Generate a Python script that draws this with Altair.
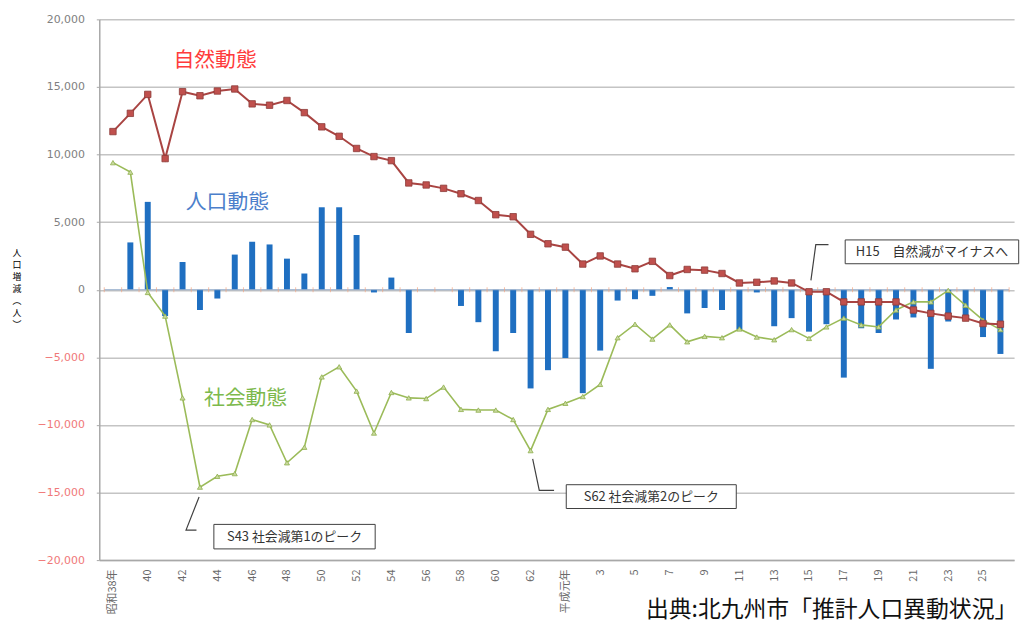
import altair as alt
import pandas as pd

# ---- data ----
years = [f"S{y}" for y in range(38, 64)] + [f"H{y}" for y in range(1, 27)]

natural = [11700, 13050, 14450, 9700, 14650, 14350, 14700, 14850, 13750, 13650,
           14000, 13100, 12050, 11350, 10450, 9850, 9550, 7900, 7750, 7500,
           7100, 6600, 5550, 5400, 4100, 3400, 3150, 1900, 2500, 1900,
           1550, 2100, 1050, 1500, 1450, 1200, 500, 550, 650, 500,
           -150, -150, -900, -900, -900, -900, -1500, -1750, -1950, -2100,
           -2500, -2550]

social = [9400, 8700, -200, -1950, -8000, -14600, -13800, -13600, -9600, -10000,
          -12800, -11650, -6450, -5700, -7500, -10600, -7600, -8000, -8050, -7200,
          -8850, -8900, -8900, -9600, -11900, -8850, -8400, -7900, -7000, -3550,
          -2550, -3650, -2600, -3850, -3450, -3550, -2900, -3500, -3700, -2950,
          -3600, -2750, -2100, -2600, -2750, -1500, -900, -900, -50, -1150,
          -2250, -2950]

population = [None, 3500, 6500, -1950, 2050, -1500, -650, 2600, 3550, 3350,
              2300, 1200, 6100, 6100, 4050, -200, 900, -3200, 0, 0,
              -1200, -2400, -4550, -3200, -7300, -5950, -5050, -7650, -4500, -800,
              -700, -450, 200, -1750, -1350, -1500, -2950, -200, -2700, -2100,
              -3100, -2550, -6500, -2850, -3200, -2200, -2050, -5850, -2350, -2250,
              -3500, -4750]

tick_labels = (["昭和38年"] + [str(y) for y in range(40, 63, 2)]
               + ["平成元年"] + [str(y) for y in range(3, 26, 2)])

y_title_chars = ["人", "口", "増", "減", "︵", "人", "︶"]

series_names = ["自然動態", "人口動態", "社会動態"]
series_x = [5.87, 6.58, 7.62]
series_y = [16900, 6420, -8110]
series_colors = ["#FF3B3B", "#4C7FCB", "#7CB94C"]

note_labels = ["S43 社会減第1のピーク", "S62 社会減第2のピーク", "H15\u3000自然減がマイナスへ"]
note_x0 = [5.80, 26.05, 42.08]
note_x1 = [15.07, 35.82, 52.05]
note_y0 = [-17358, -14422, 3684]
note_y1 = [-19171, -16183, 1923]

leader_grp = [0, 0, 0, 1, 1, 1, 2, 2, 2]
leader_ord = [0, 1, 2, 0, 1, 2, 0, 1, 2]
leader_x = [4.95, 4.20, 4.80, 24.12, 24.50, 25.35, 40.11, 40.39, 41.12]
leader_y = [-15325, -17776, -17776, -12514, -14840, -14840, 697, 3339, 3339]

source_text = "出典:北九州市「推計人口異動状況」"

# ---- tables ----
df = pd.DataFrame({"idx": list(range(len(years))), "year": years,
                   "nat": natural, "soc": social, "pop": population})
bounds = pd.DataFrame({"b": [i - 0.5 for i in range(len(years) + 1)], "z": 0})
labels_df = pd.DataFrame({"name": series_names, "x": series_x, "y": series_y, "c": series_colors})
notes_df = pd.DataFrame({"label": note_labels, "x0": note_x0, "x1": note_x1,
                         "y0": note_y0, "y1": note_y1})
notes_df["xc"] = (notes_df["x0"] + notes_df["x1"]) / 2
notes_df["yc"] = (notes_df["y0"] + notes_df["y1"]) / 2
leaders_df = pd.DataFrame({"g": leader_grp, "o": leader_ord, "x": leader_x, "y": leader_y})
source_df = pd.DataFrame({"t": [source_text], "x": [30.63], "y": [-24200]})
ytitle_df = pd.DataFrame({"ch": y_title_chars,
                          "py": [236 + 12 * i for i in range(len(y_title_chars))]})

JP = "Noto Sans CJK JP"

xscale = alt.Scale(domain=[-0.5, 51.5], nice=False, zero=False)
yscale = alt.Scale(domain=[-20000, 20000], nice=False)

label_arr = "[" + ",".join(f"'{s}'" for s in tick_labels) + "]"
x_axis = alt.Axis(values=list(range(0, len(years), 2)),
                  labelExpr=label_arr + "[round(datum.value/2)]",
                  labelAngle=-90, labelFont=JP, labelFontSize=11, labelColor="#6A6A6A",
                  labelPadding=9, ticks=False, grid=False,
                  domainColor="#A8A8A8", domainWidth=1.5, title=None)

y_axis = alt.Axis(values=list(range(-20000, 20001, 5000)),
                  labelExpr="format(datum.value, ',')",
                  grid=True, gridColor="#C4C4C4", gridWidth=1.5,
                  domainColor="#A8A8A8", domainWidth=1.5,
                  tickSize=3, tickColor="#A8A8A8",
                  labelPadding=12, labelFont="DejaVu Sans", labelFontSize=11,
                  labelColor={"expr": "datum.value < 0 ? '#F07878' : '#808080'"},
                  title=None)


def X(f):
    return alt.X(f, scale=xscale, axis=x_axis)


def Y(f):
    return alt.Y(f, scale=yscale, axis=y_axis)


base = alt.Chart(df)

bars = base.mark_bar(size=6, color="#1F6FC1").encode(x=X("idx:Q"), y=Y("pop:Q"))

zero = alt.Chart(bounds).mark_rule(color="#8FA8C8", strokeWidth=1.2).encode(
    x=X("min(b):Q"), x2="max(b):Q", y=Y("min(z):Q"))

zticks = alt.Chart(bounds).mark_tick(orient="vertical", size=5, thickness=1,
                                     color="#F4A582").encode(x=X("b:Q"), y=Y("z:Q"))

nat_line = base.mark_line(color="#A94442", strokeWidth=2).encode(x=X("idx:Q"), y=Y("nat:Q"))
nat_pts = base.mark_point(shape="square", filled=True, fill="#C0504D", stroke="#8C3B39",
                          strokeWidth=0.8, size=42, opacity=1).encode(x=X("idx:Q"), y=Y("nat:Q"))
soc_line = base.mark_line(color="#9BBB59", strokeWidth=1.6).encode(x=X("idx:Q"), y=Y("soc:Q"))
soc_pts = base.mark_point(shape="triangle-up", filled=True, fill="#C9DA9E", stroke="#8FAE4E",
                          strokeWidth=0.8, size=26, opacity=1).encode(x=X("idx:Q"), y=Y("soc:Q"))

series_text = alt.Chart(labels_df).mark_text(font=JP, fontSize=21, align="center",
                                             baseline="middle").encode(
    x=X("x:Q"), y=Y("y:Q"), text="name:N", color=alt.Color("c:N", scale=None))

leaders = alt.Chart(leaders_df).mark_line(color="#404040", strokeWidth=1.2).encode(
    x=X("x:Q"), y=Y("y:Q"), detail="g:N", order="o:Q")

boxes = alt.Chart(notes_df).mark_rect(fill="white", stroke="#404040", strokeWidth=1).encode(
    x=X("x0:Q"), x2="x1:Q", y=Y("y0:Q"), y2="y1:Q")

box_text = alt.Chart(notes_df).mark_text(font=JP, fontSize=13, color="#333333",
                                         align="center", baseline="middle").encode(
    x=X("xc:Q"), y=Y("yc:Q"), text="label:N")

source = alt.Chart(source_df).mark_text(font=JP, fontSize=23, color="#111111",
                                        align="left", baseline="alphabetic").encode(
    x=X("x:Q"), y=Y("y:Q"), text="t:N")

ytitle = alt.Chart(ytitle_df).mark_text(font=JP, fontSize=9, color="#000000",
                                        align="center", baseline="middle").encode(
    x=alt.value(-83), y=alt.Y("py:Q", scale=None), text="ch:N")

chart = alt.layer(
    bars, zero, zticks, soc_line, soc_pts, nat_line, nat_pts,
    series_text, leaders, boxes, box_text, source, ytitle
).properties(
    width=922, height=545,
    padding={"left": 92, "top": 9, "right": 11, "bottom": 70},
    autosize=alt.AutoSizeParams(type="none"),
    background="white",
).configure_view(stroke=None)

chart.save("out.html", embed_options={"renderer": "svg", "actions": False})
